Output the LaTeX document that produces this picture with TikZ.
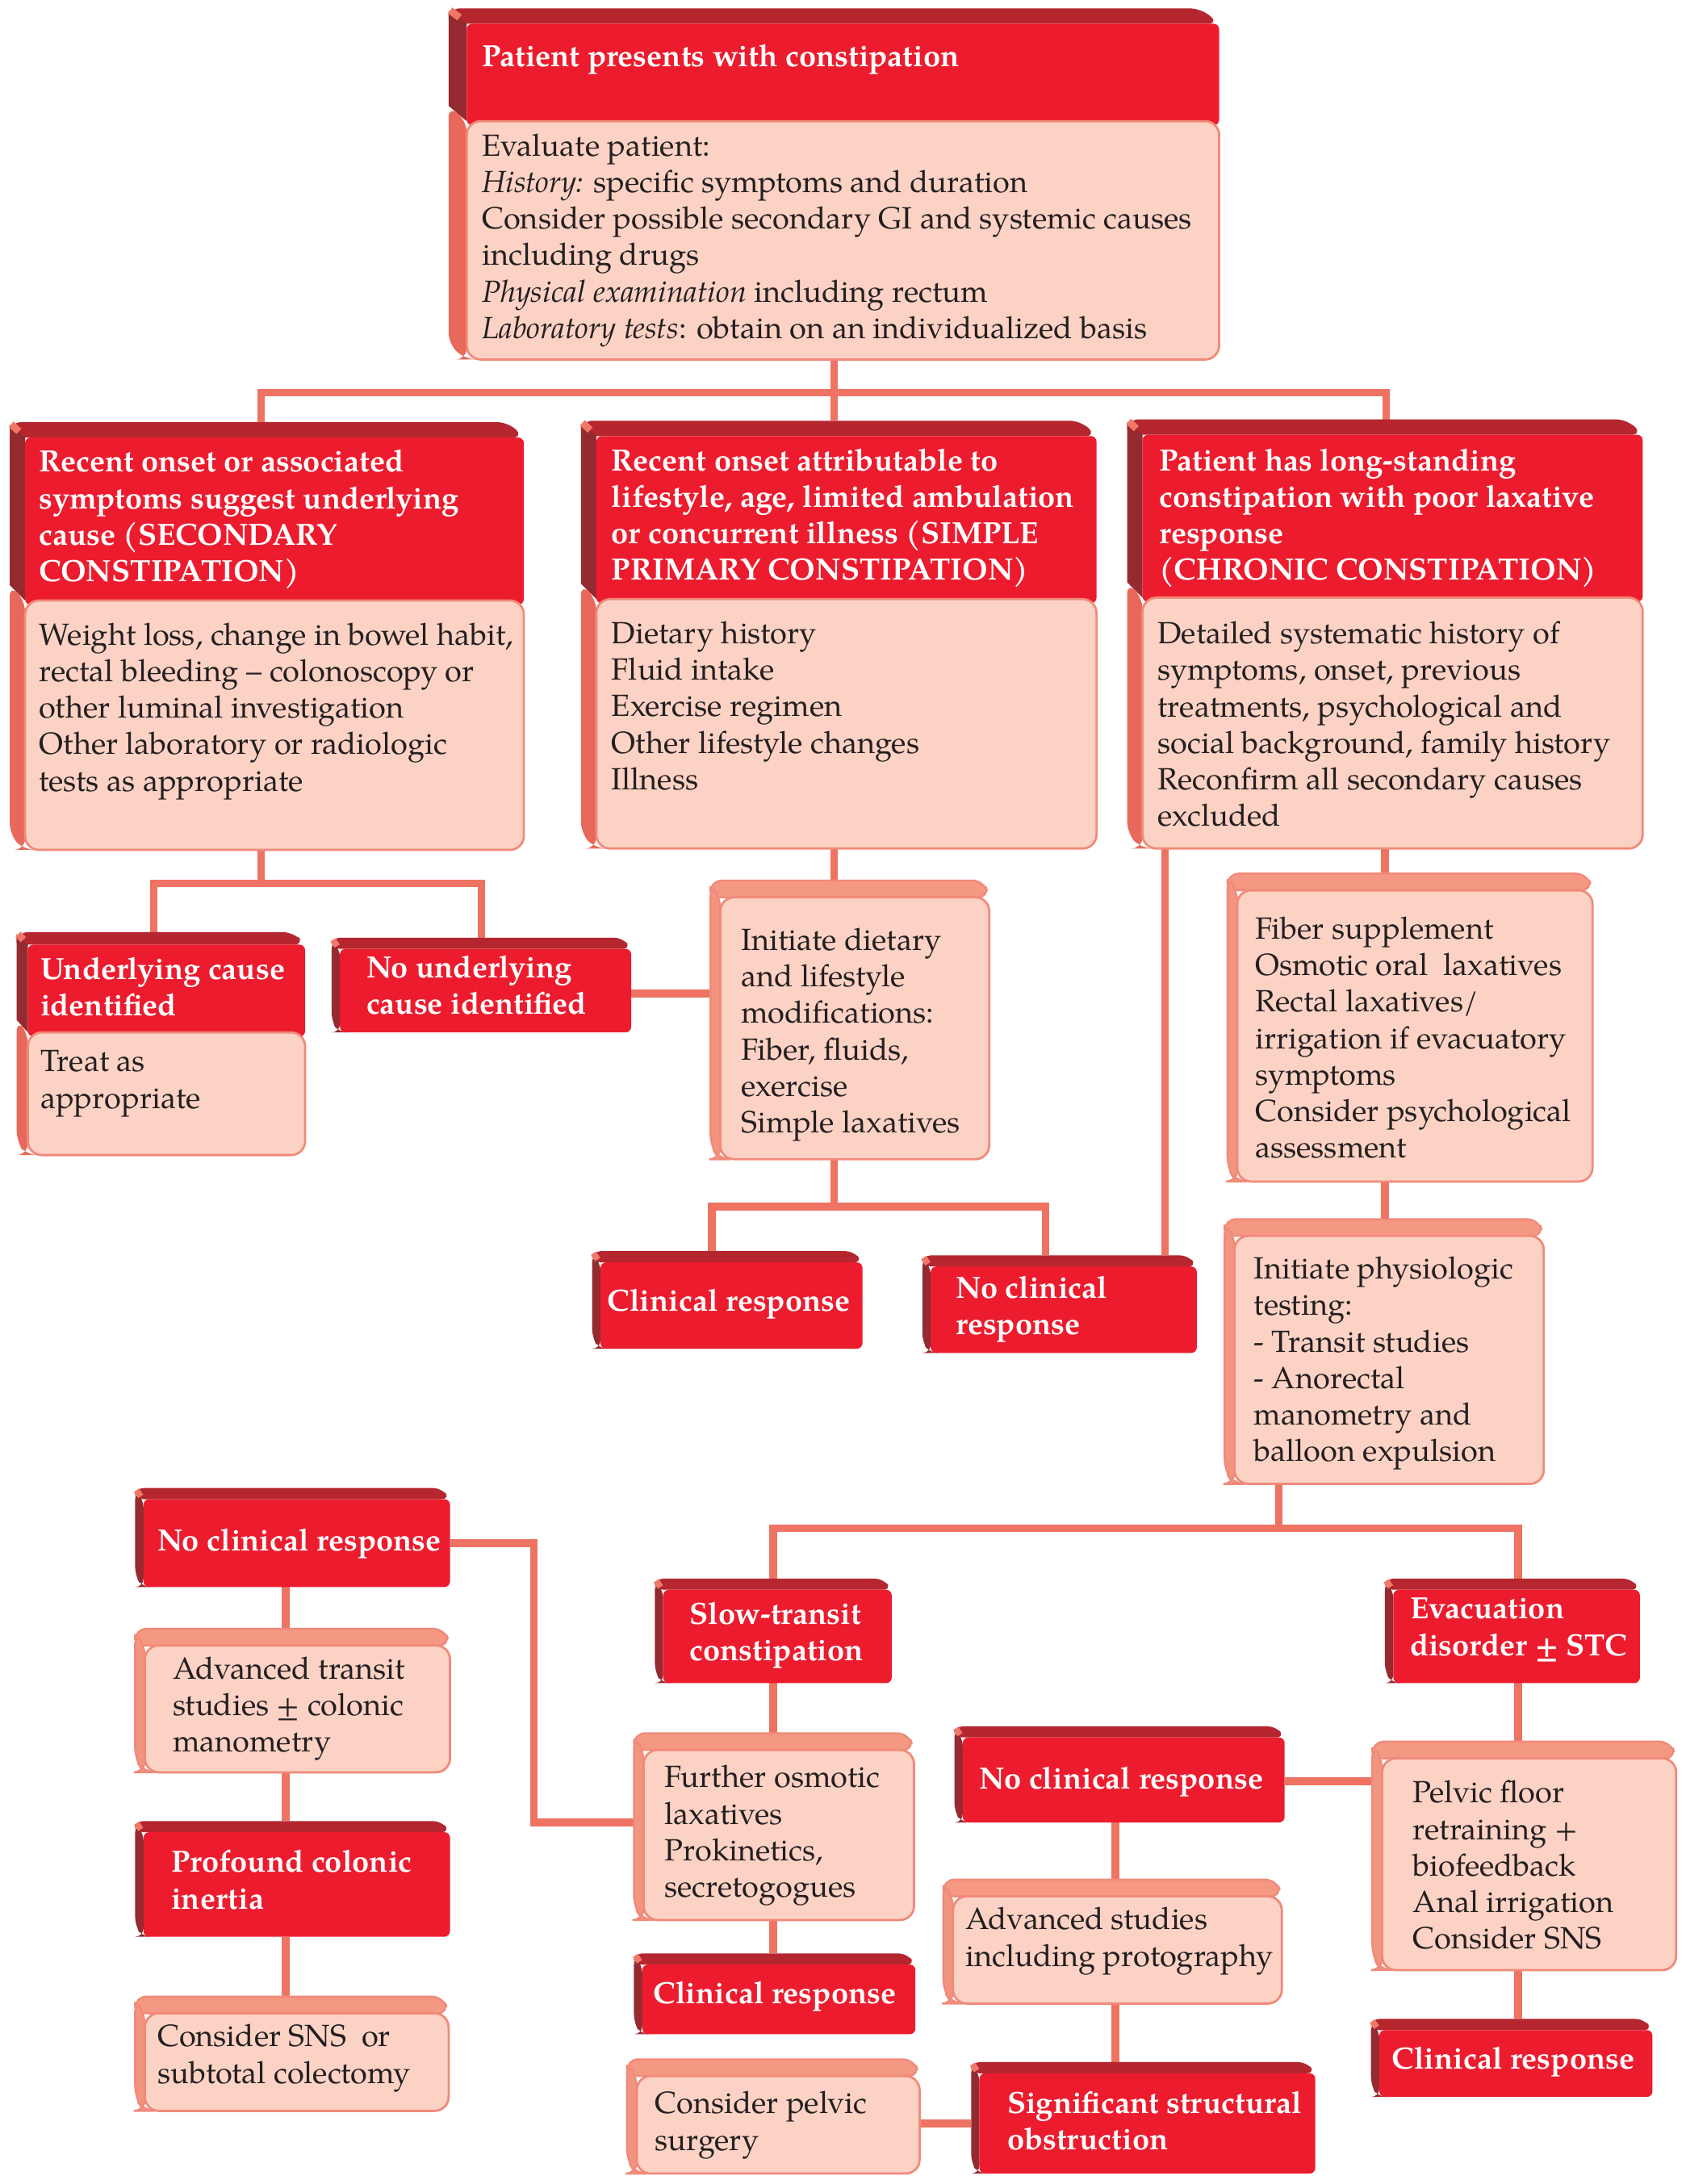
\documentclass[tikz,border=0pt]{standalone}
\usepackage{fontspec}
\setmainfont{TeX Gyre Pagella}
\usetikzlibrary{calc,backgrounds}
\definecolor{rfront}{HTML}{EC1C2E}
\definecolor{rtop}{HTML}{B5262F}
\definecolor{rside}{HTML}{952A31}
\definecolor{hl}{HTML}{F07868}
\definecolor{pfront}{HTML}{FCD2C4}
\definecolor{pborder}{HTML}{F08A7A}
\definecolor{ptop}{HTML}{F59883}
\definecolor{pside}{HTML}{F29580}
\definecolor{bside}{HTML}{E8695B}
\definecolor{conncol}{HTML}{EE7363}
\definecolor{txt}{HTML}{231F20}

\newcommand\mkanchor[5]{%
  \pgfmathsetmacro\bw{(#4-#2)*0.5}\pgfmathsetmacro\bh{(#5-#3)*0.5}%
  \node[name=#1, inner sep=0, outer sep=0, minimum width=\bw pt, minimum height=\bh pt] at ({(#2+#4)/2},{(#3+#5)/2}) {};}

% red-only box: name x1 ytop x2 ybottom
\newcommand\rbox[5]{%
  \fill[rtop, rounded corners=3] (#2,#3+8) -- (#2,#3) -- (#4-6,#3) -- (#4,#3+8) -- cycle;
  \fill[rside, rounded corners=3] (#2,#3+2) -- (#2+6,#3+8) -- (#2+6,#5) -- (#2+5,#5) -- (#2,#5-8) -- cycle;
  \draw[hl, line width=2.2] (#2+1,#3+1.5) -- (#2+4,#3+6);
  \fill[rfront, rounded corners=2] (#2+6,#3+8) rectangle (#4,#5);
  \mkanchor{#1}{#2}{#3}{#4}{#5}}

% two-part box: name x1 ytop x2 ybottom headerbottom dx dy
\newcommand\tbox[8]{%
  \fill[rtop, rounded corners=4] (#2,#3+#8) -- (#2,#3) -- (#4-#7,#3) -- (#4,#3+#8) -- cycle;
  \fill[rside] (#2,#3+2) -- (#2+#7,#3+#8) -- (#2+#7,#6) -- (#2,#6-#8) -- cycle;
  \fill[bside, rounded corners=4] (#2,#6-#8) -- (#2+#7,#6) -- (#2+#7,#5) -- (#2+#7-1,#5) -- (#2,#5-#8) -- cycle;
  \draw[hl, line width=2.6] (#2+1,#3+1.5) -- (#2+#7*0.6,#3+#8*0.6);
  \fill[rfront, rounded corners=2] (#2+#7,#3+#8) rectangle (#4,#6+3);
  \filldraw[fill=pfront, draw=pborder, line width=0.8, rounded corners=5] (#2+#7,#6) rectangle (#4,#5);
  \mkanchor{#1}{#2}{#3}{#4}{#5}}

% pink-only box: name x1 ytop x2 ybottom
\newcommand\pbox[5]{%
  \filldraw[fill=ptop, draw=pborder, line width=0.7, rounded corners=4] (#2,#3+12) -- (#2,#3) -- (#4-4,#3) -- (#4,#3+12) -- cycle;
  \filldraw[fill=pside, draw=pborder, line width=0.7, rounded corners=4] (#2,#3+3) -- (#2+7,#3+12) -- (#2+7,#5) -- (#2+6,#5) -- (#2,#5-10) -- cycle;
  \filldraw[fill=pfront, draw=pborder, line width=0.8, rounded corners=5] (#2+7,#3+12) rectangle (#4,#5);
  \mkanchor{#1}{#2}{#3}{#4}{#5}}

\begin{document}
\begin{tikzpicture}[x=0.5pt, y=-0.5pt,
  conn/.style={draw=conncol, line width=2.7},
  htext/.style={anchor=north west, inner sep=0, outer sep=0, text=white, align=left, font=\fontsize{11}{13.1}\selectfont\bfseries},
  btext/.style={anchor=north west, inner sep=0, outer sep=0, text=txt, align=left, font=\fontsize{11}{13.1}\selectfont}]
\useasboundingbox (0,0) rectangle (1210,1567.5);

% ---------- boxes ----------
\tbox{T}{322}{6}{875}{258}{87}{13}{11}
\tbox{A}{7}{303}{376}{610}{431}{11}{11}
\tbox{B}{417}{302}{787}{609}{430}{11}{11}
\tbox{C}{809}{301}{1179}{609}{429}{11}{11}
\tbox{D}{12}{669}{219}{829}{741}{8}{9}
\rbox{E}{238}{673}{453}{741}
\pbox{F}{510}{632}{710}{832}
\rbox{G}{425}{898}{619}{968}
\rbox{H}{662}{901}{859}{971}
\pbox{I}{881}{627}{1143}{848}
\pbox{J}{879}{875}{1108}{1065}
\rbox{K}{470}{1133}{640}{1208}
\rbox{L}{994}{1133}{1177}{1208}
\pbox{M}{455}{1244}{656}{1378}
\rbox{N}{455}{1402}{657}{1460}
\pbox{O}{450}{1478}{660}{1560}
\rbox{P}{97}{1068}{323}{1139}
\pbox{Q}{97}{1169}{323}{1272}
\rbox{R}{97}{1307}{323}{1390}
\pbox{S}{97}{1433}{322}{1515}
\rbox{U}{685}{1239}{922}{1308}
\pbox{V}{985}{1250}{1203}{1414}
\rbox{W}{984}{1449}{1186}{1505}
\pbox{X}{677}{1349}{920}{1438}
\rbox{Y}{697}{1480}{944}{1560}

% ---------- texts ----------
\node[htext, name=Th] at (346,32) {Patient presents with constipation};
\node[btext, name=Tb] at (346,96) {Evaluate patient:\\ \textit{History:} specific symptoms and duration\\ Consider possible secondary GI and systemic causes\\ including drugs\\ \textit{Physical examination} including rectum\\ \textit{Laboratory tests}: obtain on an individualized basis};
\node[htext, name=Ah] at (28,323) {Recent onset or associated\\ symptoms suggest underlying\\ cause (SECONDARY\\ CONSTIPATION)};
\node[btext, name=Ab] at (28,447) {Weight loss, change in bowel habit,\\ rectal bleeding -- colonoscopy or\\ other luminal investigation\\ Other laboratory or radiologic\\ tests as appropriate};
\node[htext, name=Bh] at (439,322) {Recent onset attributable to\\ lifestyle, age, limited ambulation\\ or concurrent illness (SIMPLE\\ PRIMARY CONSTIPATION)};
\node[btext, name=Bb] at (439,446) {Dietary history\\ Fluid intake\\ Exercise regimen\\ Other lifestyle changes\\ Illness};
\node[htext, name=Ch] at (832,322) {Patient has long-standing\\ constipation with poor laxative\\ response\\ (CHRONIC CONSTIPATION)};
\node[btext, name=Cb] at (831,446) {Detailed systematic history of\\ symptoms, onset, previous\\ treatments, psychological and\\ social background, family history\\ Reconfirm all secondary causes\\ excluded};
\node[htext, name=Dh] at (29,687) {Underlying cause\\ identified};
\node[btext, name=Db] at (29,754) {Treat as\\ appropriate};
\node[htext, name=Et] at (263,686) {No underlying\\ cause identified};
\node[btext, name=Ft] at (532,666) {Initiate dietary\\ and lifestyle\\ modifications:\\ Fiber, fluids,\\ exercise\\ Simple laxatives};
\node[htext, name=Gt] at (436,925) {Clinical response};
\node[htext, name=Ht] at (686,916) {No clinical\\ response};
\node[btext, name=It] at (901,658) {Fiber supplement\\ Osmotic oral\ \ laxatives\\ Rectal laxatives/\\ irrigation if evacuatory\\ symptoms\\ Consider psychological\\ assessment};
\node[btext, name=Jt] at (900,902) {Initiate physiologic\\ testing:\\ - Transit studies\\ - Anorectal\\ manometry and\\ balloon expulsion};
\node[htext, name=Kt] at (495,1150) {Slow-transit\\ constipation};
\node[htext, name=Lt] at (1012,1147) {Evacuation\\ disorder ± STC};
\node[btext, name=Mt] at (477,1267) {Further osmotic\\ laxatives\\ Prokinetics,\\ secretogogues};
\node[htext, name=Nt] at (469,1422) {Clinical response};
\node[btext, name=Ot] at (470,1501) {Consider pelvic\\ surgery};
\node[htext, name=Pt] at (113,1097) {No clinical response};
\node[btext, name=Qt] at (124,1189) {Advanced transit\\ studies ± colonic\\ manometry};
\node[htext, name=Rt] at (123,1328) {Profound colonic\\ inertia};
\node[btext, name=St] at (113,1453) {Consider SNS\ \ or\\ subtotal colectomy};
\node[htext, name=Ut] at (703,1268) {No clinical response};
\node[btext, name=Vt] at (1014,1278) {Pelvic floor\\ retraining +\\ biofeedback\\ Anal irrigation\\ Consider SNS};
\node[htext, name=Wt] at (999,1469) {Clinical response};
\node[btext, name=Xt] at (693,1369) {Advanced studies\\ including protography};
\node[htext, name=Yt] at (723,1501) {Significant structural\\ obstruction};

% ---------- connectors ----------
\coordinate (e0) at ($(E.east)+(0,6)$);
\coordinate (u1) at ($(U.east)+(0,5)$);
\coordinate (o0) at ($(O.east)+(0,5)$);
\begin{scope}[on background layer]
\fill[white] (0,0) rectangle (1210,1567.5);
\draw[conn] (T.south) -- ++(0,24) coordinate (t1);
\draw[conn] ($(A.north)+(-4,0)$) |- (t1) -| ($(C.north)+(1,0)$);
\draw[conn] (t1) -- (t1 |- B.north);
\coordinate (a0) at ($(A.south)+(-4,0)$);
\draw[conn] (a0) -- ++(0,24) coordinate (a1);
\draw[conn] ($(D.north)+(-5,0)$) |- (a1) -| (E.north);
\draw[conn] (e0) -- (e0 -| F.west);
\draw[conn] (t1 |- B.south) -- (t1 |- F.north);
\draw[conn] (t1 |- F.south) -- ++(0,34) coordinate (f1);
\draw[conn] ($(G.north)+(-11,0)$) |- (f1) -| ($(H.north)+(-10,0)$);
\coordinate (c1) at ($(C.south west)+(27,0)$);
\draw[conn] (c1) -- (c1 |- H.north);
\draw[conn] (C.south) -- (C.south |- I.north);
\draw[conn] (C.south |- I.south) -- (C.south |- J.north);
\coordinate (j0) at ($(J.south west)+(39,0)$);
\draw[conn] (j0) -- ++(0,32) coordinate (j1);
\draw[conn] (K.north) |- (j1) -| ($(L.north)+(4,0)$);
\draw[conn] (K.south) -- (K.south |- M.north);
\draw[conn] (K.south |- M.south) -- (K.south |- N.north);
\draw[conn] ($(P.east)+(0,4)$) -- ++(60,0) |- ($(M.west)+(0,-3)$);
\coordinate (pq) at ($(P.south)+(-5,0)$);
\draw[conn] (pq) -- (pq |- Q.north);
\draw[conn] (pq |- Q.south) -- (pq |- R.north);
\draw[conn] (pq |- R.south) -- (pq |- S.north);
\coordinate (l0) at ($(L.south)+(4,0)$);
\draw[conn] (l0) -- (l0 |- V.north);
\draw[conn] (l0 |- V.south) -- (l0 |- W.north);
\draw[conn] (u1) -- (u1 -| V.west);
\coordinate (u0) at ($(U.south)+(-3,0)$);
\draw[conn] (u0) -- (u0 |- X.north);
\draw[conn] (u0 |- X.south) -- (u0 |- Y.north);
\draw[conn] (o0) -- (o0 -| Y.west);
\end{scope}
\end{tikzpicture}
\end{document}
